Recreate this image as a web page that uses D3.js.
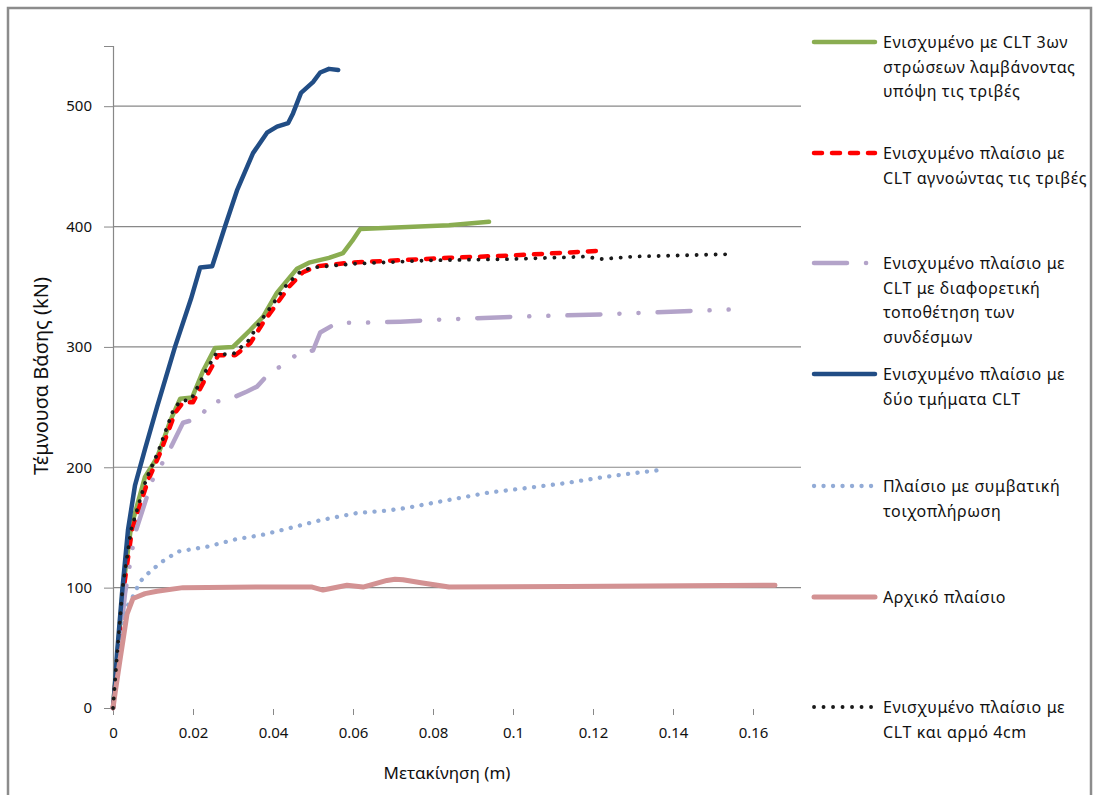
<!DOCTYPE html>
<html>
<head>
<meta charset="utf-8">
<script src="https://cdn.jsdelivr.net/npm/d3@7"></script>
<style>
  body { margin: 0; background: #fff; }
  text { font-family: "Noto Sans", "DejaVu Sans", sans-serif; fill: #111; }
</style>
</head>
<body>
<div id="chart"></div>
<script>
// load-displacement curves, one array of [x (m), V (kN)] per model

const greenCLT3 = [[0,0],[0.001,40],[0.0025,100],[0.0045,150],[0.008,192],[0.011,208],[0.0145,240],[0.0168,257],[0.0198,258],[0.0225,280],[0.0255,299],[0.030,300],[0.0343,314],[0.0375,325],[0.041,345],[0.046,365],[0.049,370],[0.054,374],[0.0575,378],[0.0598,388],[0.0618,398],[0.084,401],[0.094,404]];
const redNoFriction = [[0,0],[0.001,35],[0.0027,100],[0.00475,148],[0.00875,189],[0.0118,212],[0.0155,245],[0.0175,254],[0.020,254],[0.0238,278],[0.0263,293],[0.0305,293],[0.0343,303],[0.0375,320],[0.041,336],[0.044,350],[0.0475,362],[0.051,367],[0.0593,370],[0.084,374],[0.1,376],[0.1225,380]];
const purpleConnectors = [[0,0],[0.001,32],[0.003,95],[0.0055,145],[0.0098,189],[0.0138,212],[0.0175,237],[0.0218,241],[0.0243,254],[0.0288,256],[0.0335,263],[0.036,267],[0.039,278],[0.043,286],[0.0468,296],[0.050,297],[0.0518,312],[0.056,320],[0.0618,320],[0.0718,321],[0.084,323],[0.1,325],[0.1218,327],[0.154,331]];
const blueTwoCLT = [[0,0],[0.0005,20],[0.001,45],[0.00225,95],[0.00375,148],[0.0055,185],[0.008,215],[0.011,250],[0.0155,300],[0.0195,340],[0.0218,366],[0.0248,367],[0.028,400],[0.031,430],[0.035,461],[0.0385,478],[0.041,483],[0.0438,486],[0.045,494],[0.047,511],[0.050,520],[0.0518,528],[0.054,531],[0.0563,530]];
const lightblueInfill = [[0,0],[0.0005,15],[0.0015,45],[0.0025,68],[0.0035,84],[0.00475,91],[0.00675,105],[0.0085,111],[0.012,121],[0.01625,130],[0.0235,134],[0.0305,140],[0.0375,144],[0.0448,150],[0.0518,156],[0.061,162],[0.0685,164],[0.073,166],[0.0825,172],[0.094,179],[0.104,183],[0.1135,187],[0.123,192],[0.13,195],[0.1375,198]];
const pinkBare = [[0,0],[0.0005,12],[0.00175,40],[0.0035,78],[0.005,91],[0.008,95],[0.011,97],[0.0175,100],[0.036,100.5],[0.0498,100.5],[0.0525,98],[0.0585,102],[0.0625,100.5],[0.0685,106],[0.0705,107],[0.0725,106.5],[0.077,104],[0.084,100.5],[0.1135,101],[0.1655,102]];
const blackJoint4cm = [[0,0],[0.0008,35],[0.0024,100],[0.0045,148],[0.0083,190],[0.0113,213],[0.015,247],[0.0168,255],[0.0195,256],[0.0232,280],[0.0257,294],[0.030,294],[0.0338,305],[0.037,322],[0.0405,338],[0.0435,352],[0.047,363],[0.050,366],[0.060,369],[0.080,372],[0.1,373],[0.118,375],[0.122,373],[0.13,375],[0.1535,377]];

const seriesNames = [
  ["Ενισχυμένο με CLT 3ων", "στρώσεων λαμβάνοντας", "υπόψη τις τριβές"],
  ["Ενισχυμένο πλαίσιο με", "CLT αγνοώντας τις τριβές"],
  ["Ενισχυμένο πλαίσιο με", "CLT με διαφορετική", "τοποθέτηση των", "συνδέσμων"],
  ["Ενισχυμένο πλαίσιο με", "δύο τμήματα CLT"],
  ["Πλαίσιο με συμβατική", "τοιχοπλήρωση"],
  ["Αρχικό πλαίσιο"],
  ["Ενισχυμένο πλαίσιο με", "CLT και αρμό 4cm"]
];

const xTicks = [0, 0.02, 0.04, 0.06, 0.08, 0.1, 0.12, 0.14, 0.16];
const yTicks = [0, 100, 200, 300, 400, 500];
const yGrid = [100, 200, 300, 400, 500];

const styles = [
  { data: greenCLT3, color: "#8aad51", width: 4.5, dash: null },
  { data: redNoFriction, color: "#ff0000", width: 4.5, dash: "8 10" },
  { data: purpleConnectors, color: "#b3a3c9", width: 4.5, dash: "33 19 0.1 19 0.1 19" },
  { data: blueTwoCLT, color: "#214d85", width: 4.5, dash: null },
  { data: lightblueInfill, color: "#92abd6", width: 4.3, dash: "0.1 9.4" },
  { data: pinkBare, color: "#d39293", width: 5, dash: null },
  { data: blackJoint4cm, color: "#1a1a1a", width: 3.8, dash: "0.1 9.4" }
];

const W = 1093, H = 795;
const x = d3.scaleLinear().domain([0, 0.172]).range([113, 801]);
const y = d3.scaleLinear().domain([0, 550]).range([708, 46]);

const svg = d3.select("#chart").append("svg")
  .attr("width", W).attr("height", H);

// outer chart border
svg.append("rect")
  .attr("x", 8).attr("y", 8).attr("width", 1083).attr("height", 800)
  .attr("fill", "none").attr("stroke", "#8c8c8c").attr("stroke-width", 2.5);

// gridlines
svg.append("g").selectAll("line")
  .data(yGrid).enter().append("line")
  .attr("x1", x(0)).attr("x2", 801)
  .attr("y1", d => y(d)).attr("y2", d => y(d))
  .attr("stroke", "#888").attr("stroke-width", 1.2);

// y axis
const yAxis = svg.append("g")
  .attr("transform", `translate(${x(0)},0)`)
  .call(d3.axisLeft(y).tickValues(yTicks).tickSize(9).tickPadding(12).tickFormat(d3.format("d")));
yAxis.select(".domain").attr("stroke", "#888").attr("stroke-width", 1.2);
yAxis.selectAll(".tick line").attr("stroke", "#888");
yAxis.selectAll(".tick text").attr("font-size", 15).attr("fill", "#111")
  .style("font-family", "'Noto Sans', sans-serif");

// x axis (no baseline drawn, only ticks)
const xAxis = svg.append("g")
  .attr("transform", `translate(0,${y(0) + 1})`)
  .call(d3.axisBottom(x).tickValues(xTicks).tickSize(6).tickPadding(12)
    .tickFormat(d => d === 0 ? "0" : String(+d.toFixed(2))));
xAxis.select(".domain").remove();
xAxis.selectAll(".tick line").attr("stroke", "#888");
xAxis.selectAll(".tick text").attr("font-size", 15).attr("fill", "#111")
  .style("font-family", "'Noto Sans', sans-serif");

// axis titles
svg.append("text")
  .attr("transform", "translate(48,376) rotate(-90)")
  .attr("text-anchor", "middle")
  .attr("font-size", 20)
  .text("Τέμνουσα Βάσης (kN)");

svg.append("text")
  .attr("x", 447).attr("y", 779)
  .attr("text-anchor", "middle")
  .attr("font-size", 17)
  .text("Μετακίνηση (m)");

// curves
const line = d3.line().x(d => x(d[0])).y(d => y(d[1]));

svg.append("g").selectAll("path")
  .data(styles).enter().append("path")
  .attr("d", d => line(d.data))
  .attr("fill", "none")
  .attr("stroke", d => d.color)
  .attr("stroke-width", d => d.width)
  .attr("stroke-linecap", "round")
  .attr("stroke-linejoin", "round")
  .attr("stroke-dasharray", d => d.dash);

// legend
const legendY = [42, 153, 263, 374, 486, 597, 707];
const legend = svg.append("g").selectAll("g")
  .data(styles).enter().append("g")
  .attr("transform", (d, i) => `translate(0,${legendY[i]})`);

legend.append("line")
  .attr("x1", 814).attr("x2", 875).attr("y1", 0).attr("y2", 0)
  .attr("stroke", d => d.color)
  .attr("stroke-width", d => d.width)
  .attr("stroke-linecap", "round")
  .attr("stroke-dasharray", d => d.dash);

legend.each(function (d, i) {
  const t = d3.select(this).append("text")
    .attr("x", 883).attr("y", 6)
    .attr("font-size", 16)
    .attr("letter-spacing", 0.6);
  t.selectAll("tspan")
    .data(seriesNames[i]).enter().append("tspan")
    .attr("x", 883)
    .attr("dy", (s, j) => j === 0 ? 0 : 24.7)
    .text(s => s);
});
</script>
</body>
</html>
